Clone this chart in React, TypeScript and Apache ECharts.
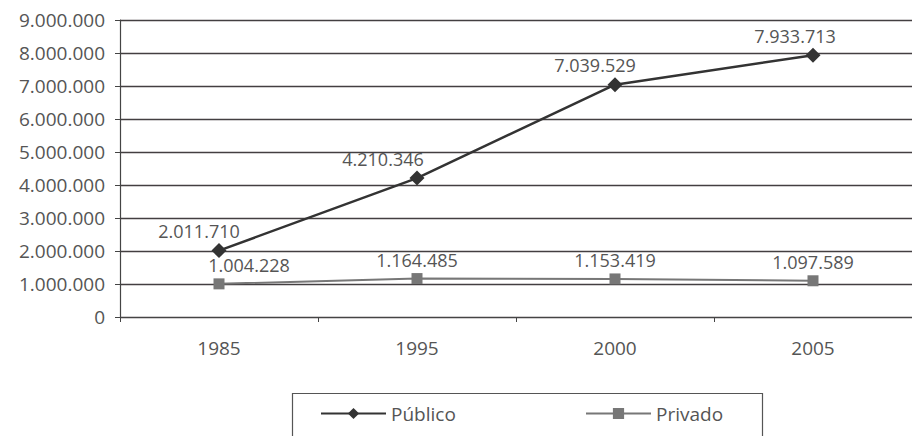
import React, { useEffect, useRef } from "react";
import * as echarts from "echarts";

const years = ["1985", "1995", "2000", "2005"];
const publico = [2011710, 4210346, 7039529, 7933713];
const privado = [1004228, 1164485, 1153419, 1097589];
const publicoLabelShift = [-20, -34, -20, -18];
const privadoLabelShift = [30, 0, 0, 0];

const fmt = (v: number) => String(Math.round(v)).replace(/\B(?=(\d{3})+(?!\d))/g, ".");

const FONT = "'Open Sans', sans-serif";
const TEXT = "#555";

const legendBase = {
  top: 399,
  itemWidth: 65,
  itemHeight: 14,
  textStyle: { color: TEXT, fontSize: 19, fontFamily: FONT },
};

export default function App() {
  const ref = useRef<HTMLDivElement>(null);
  useEffect(() => {
    if (!ref.current) return;
    const chart = echarts.init(ref.current, null, { renderer: "svg" });
    chart.setOption({
      animation: false,
      backgroundColor: "#fff",
      textStyle: { fontFamily: FONT },
      grid: { left: 120, right: -8, top: 20, bottom: 119, containLabel: false },
      xAxis: {
        type: "category",
        data: years,
        boundaryGap: true,
        axisLine: { lineStyle: { color: "#444", width: 1.2 } },
        axisTick: { show: true, length: 5, lineStyle: { color: "#444" } },
        axisLabel: { color: TEXT, fontSize: 19, fontFamily: FONT, margin: 21 },
      },
      yAxis: {
        type: "value",
        min: 0,
        max: 9000000,
        interval: 1000000,
        axisLine: { show: true, lineStyle: { color: "#444", width: 1.2 } },
        axisTick: { show: true, length: 5, inside: false, lineStyle: { color: "#444" } },
        splitLine: { lineStyle: { color: "#433f41", width: 1.3 } },
        axisLabel: { color: TEXT, fontSize: 19, fontFamily: FONT, margin: 15, formatter: (v: number) => fmt(v) },
      },
      legend: [
        { ...legendBase, left: 315, data: ["Público"] },
        { ...legendBase, left: 580, data: ["Privado"] },
      ],
      graphic: [
        {
          type: "rect",
          shape: { x: 292.5, y: 393.5, width: 470, height: 60 },
          style: { fill: "none", stroke: "#555", lineWidth: 1.2 },
        },
      ],
      series: [
        {
          name: "Público",
          type: "line",
          data: publico.map((v, i) => ({
            value: v,
            label: { offset: [publicoLabelShift[i], 0] },
          })),
          symbol: "diamond",
          symbolSize: 15,
          itemStyle: { color: "#333" },
          lineStyle: { color: "#333", width: 2.5 },
          label: {
            show: true,
            position: "top",
            distance: 3,
            color: TEXT,
            fontSize: 18,
            fontFamily: FONT,
            formatter: (p: any) => fmt(p.value),
          },
          z: 3,
        },
        {
          name: "Privado",
          type: "line",
          data: privado.map((v, i) => ({
            value: v,
            label: { offset: [privadoLabelShift[i], 0] },
          })),
          symbol: "rect",
          symbolSize: 11,
          itemStyle: { color: "#777" },
          lineStyle: { color: "#777", width: 2 },
          label: {
            show: true,
            position: "top",
            distance: 4,
            color: TEXT,
            fontSize: 18,
            fontFamily: FONT,
            formatter: (p: any) => fmt(p.value),
          },
          z: 2,
        },
      ],
    });
    return () => chart.dispose();
  }, []);
  return (
    <div
      ref={ref}
      style={{ position: "fixed", left: 0, top: 0, width: 912, height: 436, background: "#fff" }}
    />
  );
}
